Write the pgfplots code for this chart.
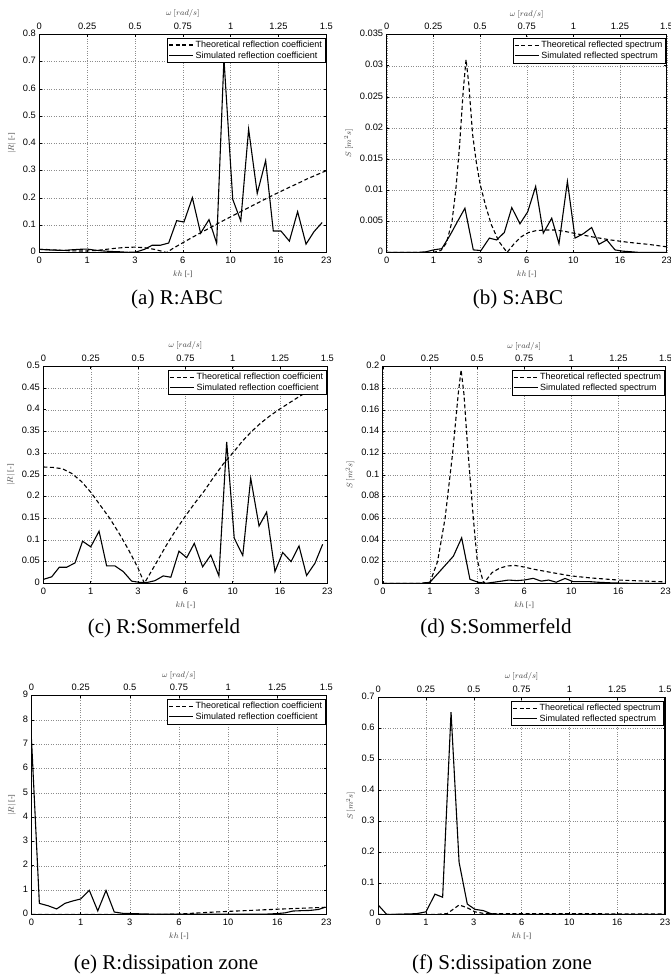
\documentclass[border=0pt]{standalone}
\usepackage{fontspec}
\setmainfont{Liberation Serif}
\setsansfont{Liberation Sans}
\usepackage{pgfplots}
\pgfplotsset{compat=1.18}

% common look of the six panels (x runs in omega, bottom labels give kh)
\pgfplotsset{
  panel/.style={
    scale only axis, anchor=north west,
    xmin=0, xmax=1.5, ymin=0,
    xtick={0,0.25,0.5,0.75,1,1.25,1.5},
    xticklabels={0,1,3,6,10,16,23},
    grid=major,
    major grid style={line width=0.4pt, dotted, black!45},
    axis line style={line width=1.1pt},
    tick align=inside, major tick length=2.5pt,
    every tick/.style={black, line width=0.5pt},
    tick label style={font=\sffamily\fontsize{9.3}{11}\selectfont},
    typeset ticklabels with strut,
    /pgf/number format/assume math mode=true,
    yticklabel style={/pgf/number format/fixed, /pgf/number format/precision=3},
    scaled y ticks=false,
    xlabel={$kh$ [-]},
    label style={font=\fontsize{8}{9}\selectfont, text=black!75},
    xlabel style={yshift=3pt},
    legend cell align=left,
    legend style={at={(1,1)}, anchor=north east, xshift=-1pt, yshift=-3.5pt,
      draw=black, line width=0.6pt, fill=white, inner sep=1pt,
      font=\sffamily\fontsize{9}{10.5}\selectfont, row sep=-1.5pt},
    legend image code/.code={\draw[#1] (0pt,0pt) -- (24pt,0pt);},
  },
  theo/.style={black, line width=1.1pt, dash pattern=on 4pt off 2.6pt},
  simu/.style={black, line width=1.1pt},
  toppanel/.style={
    scale only axis, anchor=north west,
    xmin=0, xmax=1.5, ymin=0, ymax=1,
    axis x line*=top, axis y line=none,
    xtick={0,0.25,0.5,0.75,1,1.25,1.5},
    xticklabels={0,0.25,0.5,0.75,1,1.25,1.5},
    major tick length=0pt,
    x axis line style={draw=none},
    tick label style={font=\sffamily\fontsize{9.3}{11}\selectfont},
    xticklabel style={yshift=-2pt},
    typeset ticklabels with strut,
    xlabel={$\omega\ [rad/s]$},
    label style={font=\fontsize{8}{9}\selectfont, text=black!75},
    xlabel style={yshift=-3pt},
  },
}
\newcommand{\topaxis}[4]{%
  \begin{axis}[toppanel, at={(#1pt,-#2pt)}, width=#3pt, height=#4pt]
  \addplot[draw=none] coordinates {(0,0)};
  \end{axis}}

\begin{document}
\begin{tikzpicture}
\path[use as bounding box] (0,0) rectangle (670pt,-974pt);

% (a) R:ABC
\begin{axis}[panel, at={(39.3pt,-34.2pt)}, width=287pt, height=218.4pt,
  ymax=0.8, ytick={0,0.1,...,0.8}, ylabel={$|R|$ [-]}]
\addplot[theo] coordinates {
 (0,0.012) (0.05,0.011) (0.1,0.009) (0.15,0.007) (0.2,0.006) (0.25,0.006)
 (0.3,0.008) (0.35,0.012) (0.4,0.016) (0.45,0.019) (0.5,0.02) (0.55,0.018)
 (0.6,0.012) (0.64,0.005) (0.665,0.0) (0.7,0.016) (0.75,0.036) (0.8,0.056)
 (0.85,0.075) (0.9,0.094) (0.95,0.113) (1.0,0.131) (1.05,0.149) (1.1,0.167)
 (1.15,0.185) (1.2,0.203) (1.25,0.22) (1.3,0.237) (1.35,0.253) (1.4,0.27)
 (1.45,0.285) (1.5,0.30)};
\addlegendentry{Theoretical reflection coefficient}
\addplot[simu] coordinates {
 (0,0.012) (0.04,0.010) (0.08,0.009) (0.125,0.008) (0.165,0.010) (0.21,0.012)
 (0.25,0.013) (0.29,0.009) (0.335,0.006) (0.38,0.004) (0.42,0.003) (0.465,0.001)
 (0.505,0.002) (0.55,0.012) (0.59,0.027) (0.633,0.027) (0.676,0.035) (0.718,0.117)
 (0.756,0.112) (0.80,0.201) (0.843,0.071) (0.887,0.121) (0.927,0.034) (0.965,0.71)
 (1.011,0.195) (1.053,0.116) (1.094,0.452) (1.139,0.217) (1.183,0.337) (1.223,0.079)
 (1.263,0.079) (1.307,0.042) (1.35,0.150) (1.394,0.031) (1.436,0.077) (1.478,0.11)};
\addlegendentry{Simulated reflection coefficient}
\end{axis}
\topaxis{39.3}{34.2}{287}{218.4}

% (b) S:ABC
\begin{axis}[panel, at={(386.7pt,-34.6pt)}, width=280pt, height=217.8pt,
  ymax=0.035, ytick={0,0.005,...,0.035}, ylabel={$S\ [m^2s]$}]
\addplot[theo] coordinates {
 (0,0) (0.25,0) (0.29,0.0003) (0.32,0.0015) (0.35,0.005) (0.37,0.01) (0.39,0.017)
 (0.41,0.026) (0.425,0.031) (0.44,0.027) (0.46,0.019) (0.48,0.0145) (0.5,0.011)
 (0.53,0.0075) (0.56,0.0045) (0.6,0.0018) (0.645,0) (0.68,0.0013) (0.72,0.0025)
 (0.76,0.0032) (0.8,0.0035) (0.85,0.0036) (0.9,0.0036) (0.95,0.0034) (1.0,0.0031)
 (1.1,0.0025) (1.2,0.002) (1.3,0.0016) (1.4,0.0013) (1.5,0.0009)};
\addlegendentry{Theoretical reflected spectrum}
\addplot[simu] coordinates {
 (0,0) (0.04,0) (0.085,0) (0.125,0) (0.17,0) (0.21,0.0001) (0.25,0.0004)
 (0.295,0.0006) (0.34,0.0028) (0.38,0.005) (0.419,0.0071) (0.464,0.0004)
 (0.505,0.0003) (0.55,0.0023) (0.589,0.002) (0.63,0.0032) (0.67,0.0072)
 (0.714,0.0046) (0.755,0.0065) (0.798,0.0106) (0.839,0.0031) (0.884,0.0055)
 (0.923,0.0014) (0.968,0.0114) (1.009,0.0023) (1.053,0.003) (1.098,0.004)
 (1.137,0.0013) (1.179,0.002) (1.223,0.0004) (1.265,0.0002) (1.31,0.0001)
 (1.35,0) (1.4,0) (1.45,0) (1.5,0)};
\addlegendentry{Simulated reflected spectrum}
\end{axis}
\topaxis{386.7}{34.6}{280}{217.8}

% (c) R:Sommerfeld
\begin{axis}[panel, at={(43.4pt,-366.3pt)}, width=284pt, height=217pt,
  ymax=0.5, ytick={0,0.05,...,0.5}, ylabel={$|R|$ [-]}]
\addplot[theo] coordinates {
 (0,0.268) (0.05,0.267) (0.1,0.264) (0.15,0.253) (0.2,0.235) (0.25,0.21)
 (0.3,0.18) (0.35,0.15) (0.4,0.115) (0.45,0.077) (0.5,0.035) (0.533,0.0)
 (0.56,0.02) (0.6,0.05) (0.65,0.088) (0.7,0.123) (0.75,0.155) (0.8,0.185)
 (0.85,0.213) (0.9,0.245) (0.95,0.275) (1.0,0.3) (1.05,0.327) (1.1,0.35)
 (1.15,0.37) (1.2,0.387) (1.25,0.402) (1.3,0.416) (1.35,0.43) (1.4,0.443)
 (1.45,0.456) (1.5,0.468)};
\addlegendentry{Theoretical reflection coefficient}
\addplot[simu] coordinates {
 (0,0.009) (0.044,0.015) (0.084,0.037) (0.123,0.037) (0.167,0.047) (0.207,0.097)
 (0.25,0.084) (0.294,0.12) (0.334,0.04) (0.378,0.04) (0.422,0.027) (0.466,0.005)
 (0.51,0.002) (0.549,0.002) (0.589,0.006) (0.633,0.017) (0.673,0.014) (0.716,0.074)
 (0.757,0.059) (0.797,0.092) (0.841,0.038) (0.884,0.065) (0.927,0.017) (0.968,0.326)
 (1.008,0.104) (1.053,0.064) (1.095,0.242) (1.139,0.132) (1.179,0.164) (1.223,0.027)
 (1.264,0.071) (1.308,0.05) (1.35,0.086) (1.39,0.018) (1.434,0.046) (1.475,0.09)};
\addlegendentry{Simulated reflection coefficient}
\end{axis}
\topaxis{43.4}{366.3}{284}{217}

% (d) S:Sommerfeld
\begin{axis}[panel, at={(382.9pt,-366.6pt)}, width=282.6pt, height=216.7pt,
  ymax=0.2, ytick={0,0.02,...,0.2}, ylabel={$S\ [m^2s]$}]
\addplot[theo] coordinates {
 (0,0) (0.2,0) (0.25,0.001) (0.29,0.02) (0.33,0.06) (0.37,0.12) (0.4,0.175)
 (0.415,0.197) (0.43,0.175) (0.45,0.125) (0.48,0.06) (0.5,0.022) (0.535,0)
 (0.58,0.01) (0.62,0.014) (0.66,0.016) (0.7,0.0165) (0.75,0.015) (0.8,0.013)
 (0.9,0.0098) (1.0,0.0068) (1.1,0.005) (1.25,0.003) (1.4,0.002) (1.5,0.0013)};
\addlegendentry{Theoretical reflected spectrum}
\addplot[simu] coordinates {
 (0,0) (0.21,0) (0.25,0.001) (0.374,0.025) (0.418,0.042) (0.462,0.0037)
 (0.505,0.001) (0.545,0) (0.59,0.001) (0.63,0.002) (0.666,0.003) (0.71,0.0025)
 (0.75,0.003) (0.798,0.0046) (0.84,0.002) (0.88,0.003) (0.92,0.001) (0.967,0.0045)
 (1.01,0.0015) (1.05,0.0015) (1.1,0.0015) (1.14,0.001) (1.2,0.0005) (1.3,0) (1.5,0)};
\addlegendentry{Simulated reflected spectrum}
\end{axis}
\topaxis{382.9}{366.6}{282.6}{216.7}

% (e) R:dissipation zone
\begin{axis}[panel, at={(31.5pt,-695.6pt)}, width=294.9pt, height=218.7pt,
  ymax=9, ytick={0,1,...,9}, ylabel={$|R|$ [-]}]
\addplot[theo] coordinates {
 (0,0) (0.7,0) (0.75,0.01) (0.875,0.07) (1.0,0.12) (1.125,0.165) (1.25,0.21)
 (1.375,0.25) (1.5,0.29)};
\addlegendentry{Theoretical reflection coefficient}
\addplot[simu] coordinates {
 (0,7.2) (0.04,0.45) (0.085,0.35) (0.128,0.22) (0.17,0.45) (0.21,0.55) (0.25,0.63)
 (0.294,0.99) (0.337,0.14) (0.379,0.98) (0.421,0.095) (0.464,0.04) (0.505,0.03)
 (0.55,0.02) (0.6,0.01) (0.8,0.01) (1.0,0.01) (1.2,0.01) (1.25,0.03) (1.29,0.06)
 (1.33,0.135) (1.375,0.15) (1.417,0.16) (1.46,0.2) (1.493,0.29)};
\addlegendentry{Simulated reflection coefficient}
\end{axis}
\topaxis{31.5}{695.6}{294.9}{218.7}

% (f) S:dissipation zone
\begin{axis}[panel, at={(378.2pt,-697.3pt)}, width=286.8pt, height=217pt,
  ymax=0.7, ytick={0,0.1,...,0.7}, ylabel={$S\ [m^2s]$}]
\addplot[theo] coordinates {
 (0,0) (0.3,0) (0.36,0.002) (0.423,0.03) (0.463,0.022) (0.506,0.008) (0.55,0.003)
 (0.6,0.002) (1.0,0.002) (1.5,0.001)};
\addlegendentry{Theoretical reflected spectrum}
\addplot[simu] coordinates {
 (0,0.03) (0.044,0) (0.09,0) (0.2,0.002) (0.25,0.008) (0.297,0.065) (0.337,0.055)
 (0.381,0.652) (0.423,0.168) (0.466,0.033) (0.506,0.016) (0.55,0.012) (0.59,0.002)
 (0.63,0) (1.5,0)};
\addlegendentry{Simulated reflected spectrum}
\end{axis}
\topaxis{378.2}{697.3}{286.8}{217}

% sub-captions
\begin{scope}[every node/.style={font=\fontsize{21}{24}\selectfont, anchor=base}]
\node at (177pt,-304pt) {(a) R:ABC};
\node at (518pt,-304pt) {(b) S:ABC};
\node at (164pt,-633pt) {(c) R:Sommerfeld};
\node at (496pt,-633pt) {(d) S:Sommerfeld};
\node at (166pt,-969pt) {(e) R:dissipation zone};
\node at (502pt,-969pt) {(f) S:dissipation zone};
\end{scope}
\end{tikzpicture}
\end{document}
